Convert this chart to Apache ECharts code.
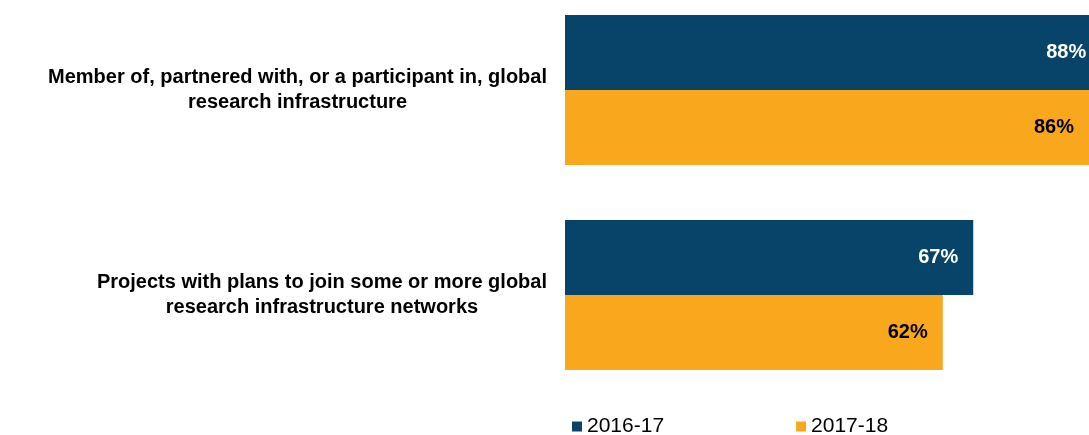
<!DOCTYPE html>
<html>
<head>
<meta charset="utf-8">
<script src="https://cdn.jsdelivr.net/npm/echarts@6/dist/echarts.min.js"></script>
<style>
  html, body { margin: 0; padding: 0; background: #fff; }
  #chart { width: 1089px; height: 435px; }
</style>
</head>
<body>
<div id="chart"></div>
<script>
// Survey items (two-line labels) and share of projects per reporting year
const categories = [
  'Member of, partnered with, or a participant in, global\nresearch infrastructure',
  'Projects with plans to join some or more global\nresearch infrastructure networks'
];
const seriesNames = ['2016-17', '2017-18'];
const values2016 = [88, 67];
const values2017 = [86, 62];

const BLUE = '#08446a';
const ORANGE = '#f9a71c';
const FONT = 'Liberation Sans, Arial, sans-serif';

const chart = echarts.init(document.getElementById('chart'), null, { renderer: 'canvas' });

function barSeries(name, data, color, labelColor) {
  return {
    name: name,
    type: 'bar',
    data: data,
    barWidth: 75,
    barGap: '0%',
    clip: false,
    itemStyle: { color: color },
    label: {
      show: true,
      position: 'insideRight',
      distance: 15,
      formatter: p => p.value + '%',
      color: labelColor,
      fontFamily: FONT,
      fontWeight: 'bold',
      fontSize: 20
    },
    emphasis: { disabled: true }
  };
}

chart.setOption({
  animation: false,
  backgroundColor: '#ffffff',
  // category points sit on the grid edges, so the bands are centred at top and bottom
  grid: { left: 565, right: 0, top: 90, height: 205, containLabel: false },
  xAxis: {
    type: 'value',
    min: 0,
    max: 86,
    show: false
  },
  yAxis: {
    type: 'category',
    data: categories,
    inverse: true,
    boundaryGap: false,
    axisLine: { show: false },
    axisTick: { show: false },
    splitLine: { show: false },
    axisLabel: {
      margin: 18,
      formatter: v => v.split('\n').map(s => '{c|' + s + '}').join('\n'),
      rich: {
        c: {
          align: 'center',
          fontFamily: FONT,
          fontWeight: 'bold',
          fontSize: 20,
          lineHeight: 25,
          color: '#000'
        }
      }
    }
  },
  legend: {
    data: seriesNames,
    left: 567,
    top: 411,
    icon: 'rect',
    itemWidth: 10,
    itemHeight: 10,
    itemGap: 132,
    textStyle: { fontFamily: FONT, fontSize: 21, color: '#000' }
  },
  series: [
    barSeries(seriesNames[0], values2016, BLUE, '#ffffff'),
    barSeries(seriesNames[1], values2017, ORANGE, '#000000')
  ]
});
</script>
</body>
</html>
